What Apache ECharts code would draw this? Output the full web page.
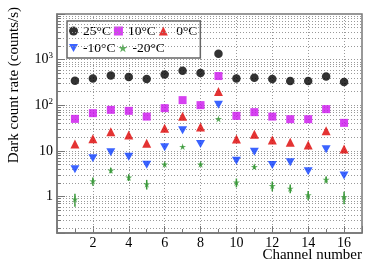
<!DOCTYPE html>
<html>
<head>
<meta charset="utf-8">
<script src="https://cdn.jsdelivr.net/npm/echarts@6/dist/echarts.min.js"></script>
<style>html,body{margin:0;padding:0;background:#fff}#c{width:382px;height:275px}</style>
</head>
<body>
<div id="c"></div>
<script>
const channels = [1,2,3,4,5,6,7,8,9,10,11,12,13,14,15,16];
const dcr25 = [345,388,452,417,377,475,573,510,1355,388,402,377,340,340,430,324];
const dcr10 = [50.5,67.4,79.6,75.7,56.7,86.8,130,101,438,58.8,70.9,56.7,49.7,49.7,82.5,41.3];
const dcr0 = [14.3,18.6,26.5,22.5,14.8,31.5,57.9,33.7,201,18.4,23.3,17.5,15.5,13.5,27.9,11.1];
const dcrm10 = [3.96,6.92,9.36,7.5,5.0,12.1,28.5,14.3,102.6,6.12,9.66,4.92,5.65,3.58,10.9,2.92];
const dcrm20 = [0.88,2.19,3.77,2.64,1.88,5.1,12.4,5.1,50.5,2.05,4.52,1.73,1.51,1.08,2.37,0.98];
const errm20 = [0.28,0.45,0.5,0.45,0.45,0.5,0.6,0.5,1,0.45,0.5,0.42,0.33,0.25,0.4,0.3];
const seriesNames = ['25°C','10°C',' 0°C','-10°C','-20°C'];
const xTickLabels = [2,4,6,8,10,12,14,16];
const yLabels = {'0':'1','1':'10','2':'{b|10}{s|2}','3':'{b|10}{s|3}'};
const yMin = 0.16, yMax = 10000;

const FONT = 'Liberation Serif';
const colors = ['#000000','#cc11ee','#dd0000','#0a3cff','#3a9a3a'];
const DOWN_TRI = 'path://M0,0 L10,0 L5,9 Z';
const STAR = 'path://M50,0 L61,35 L98,35 L68,57 L79,91 L50,70 L21,91 L32,57 L2,35 L39,35 Z';

// minor grid values (2..9 x decade)
const minorVals = [];
for (let k = -1; k <= 3; k++) for (let m = 2; m <= 9; m++) {
  const v = m * Math.pow(10, k);
  if (v > yMin && v < yMax) minorVals.push(v);
}
const gridLines = minorVals.map(v => ({yAxis: v}));
const minorTicks = minorVals.map(v => [{coord:[0, v]}, {coord:[0.22, v]}]);

const pairs = arr => channels.map((c, i) => [c, arr[i]]);

const chart = echarts.init(document.getElementById('c'));
chart.setOption({
  animation: false,
  grid: {left: 57, top: 14, right: 20, bottom: 42, show: true, borderColor: '#777', borderWidth: 1.5,
    backgroundColor: 'transparent', containLabel: false, outerBoundsMode: 'none'},
  legend: {
    left: 67, top: 21, width: 130,
    orient: 'horizontal',
    data: seriesNames,
    itemWidth: 9, itemHeight: 9, itemGap: 3,
    padding: [3, 3, 3, 2],
    borderColor: '#666', borderWidth: 1.5, backgroundColor: '#fff',
    textStyle: {fontFamily: FONT, fontSize: 13.5, color: '#000', lineHeight: 13}
  },
  xAxis: {
    type: 'value', min: 0, max: 17, interval: 2,
    axisLine: {show: true, lineStyle: {color: '#777', width: 1.5}},
    axisTick: {show: true, inside: true, length: 7, lineStyle: {color: '#777'}},
    minorTick: {show: true, splitNumber: 2, length: 4, lineStyle: {color: '#777'}},
    axisLabel: {fontFamily: FONT, fontSize: 14, color: '#000', margin: 3,
      formatter: v => (xTickLabels.indexOf(v) >= 0 ? String(v) : '')},
    splitLine: {show: true, lineStyle: {color: '#999', type: [1, 2], width: 1}}
  },
  yAxis: {
    type: 'log', min: yMin, max: yMax, logBase: 10,
    axisLine: {show: true, lineStyle: {color: '#777', width: 1.5}},
    axisTick: {show: true, inside: true, length: 8, lineStyle: {color: '#777'}},
    axisLabel: {fontFamily: FONT, fontSize: 14, color: '#000', margin: 4,
      formatter: v => { const l = Math.log10(v); const r = Math.round(l); return Math.abs(l - r) < 1e-6 && yLabels[String(r)] ? yLabels[String(r)] : ''; },
      rich: {b: {fontFamily: FONT, fontSize: 14, color: '#000'}, s: {fontFamily: FONT, fontSize: 9, color: '#000', padding: [0, 0, 8, 0]}}
    },
    splitLine: {show: true, lineStyle: {color: '#999', type: [1, 2], width: 1}}
  },
  graphic: [{
    type: 'text', left: 7, top: 7,
    rotation: Math.PI / 2,
    style: {text: 'Dark count rate (counts/s)', fontFamily: FONT, fontSize: 15, fill: '#000'}
  }, {
    type: 'text', right: 20, top: 248,
    style: {text: 'Channel number', fontFamily: FONT, fontSize: 15, fill: '#000'}
  }],
  series: [
    {type: 'line', data: [], silent: true,
      markLine: {silent: true, symbol: 'none', label: {show: false}, animation: false,
        lineStyle: {color: '#999', type: [1, 2], width: 1}, data: gridLines}},
    {type: 'line', data: [], silent: true,
      markLine: {silent: true, symbol: 'none', label: {show: false}, animation: false,
        lineStyle: {color: '#777', type: 'solid', width: 1}, data: minorTicks}},
    {type: 'custom', name: 'err', z: 3,
      renderItem: (params, api) => {
        const x = api.value(0), y = api.value(1), e = api.value(2);
        const p1 = api.coord([x, y + e]), p2 = api.coord([x, Math.max(y - e, 1e-3)]);
        return {type: 'line', shape: {x1: p1[0], y1: p1[1], x2: p2[0], y2: p2[1]}, style: {stroke: colors[4], lineWidth: 1.5}};
      },
      encode: {x: 0, y: 1},
      data: channels.map((c, i) => [c, dcrm20[i], errm20[i]])},
    {type: 'scatter', name: seriesNames[0], data: pairs(dcr25), symbol: 'circle', symbolSize: 8.5, itemStyle: {color: colors[0]}, z: 5},
    {type: 'scatter', name: seriesNames[1], data: pairs(dcr10), symbol: 'rect', symbolSize: 8, itemStyle: {color: colors[1]}, z: 5},
    {type: 'scatter', name: seriesNames[2], data: pairs(dcr0), symbol: 'triangle', symbolSize: 9, itemStyle: {color: colors[2]}, z: 5},
    {type: 'scatter', name: seriesNames[3], data: pairs(dcrm10), symbol: DOWN_TRI, symbolSize: [9, 8], itemStyle: {color: colors[3]}, z: 5},
    {type: 'scatter', name: seriesNames[4], data: pairs(dcrm20), symbol: STAR, symbolSize: 7, itemStyle: {color: colors[4]}, z: 5}
  ]
});
</script>
</body>
</html>
